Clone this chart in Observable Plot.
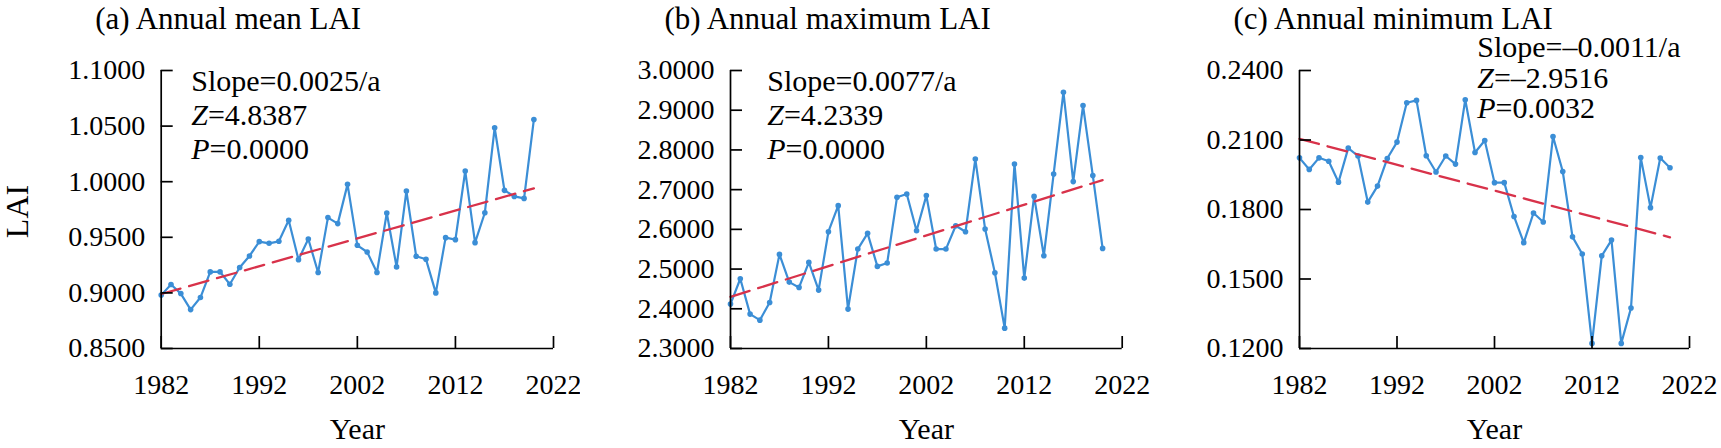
<!DOCTYPE html>
<html>
<head>
<meta charset="utf-8">
<script src="https://cdn.jsdelivr.net/npm/d3@7"></script>
<script src="https://cdn.jsdelivr.net/npm/@observablehq/plot@0.6"></script>
<style>
  body { margin: 0; background: #fff; }
  #wrap { position: relative; width: 1721px; height: 448px; overflow: hidden; background: #fff;
          font-family: "Liberation Serif", "DejaVu Serif", serif; }
  .panel { position: absolute; top: 0; }
  .panel svg, .panel svg text, .panel svg tspan { font-family: "Liberation Serif", "DejaVu Serif", serif !important; }
</style>
</head>
<body>
<div id="wrap"></div>
<script>
const years = [1982,1983,1984,1985,1986,1987,1988,1989,1990,1991,
  1992,1993,1994,1995,1996,1997,1998,1999,2000,2001,
  2002,2003,2004,2005,2006,2007,2008,2009,2010,2011,
  2012,2013,2014,2015,2016,2017,2018,2019,2020];

const meanLAI = [0.8980,0.9075,0.8994,0.8850,0.8958,0.9189,0.9189,0.9078,0.9228,0.9332,
  0.9461,0.9446,0.9464,0.9653,0.9299,0.9485,0.9183,0.9677,0.9623,0.9976,
  0.9428,0.9368,0.9183,0.9719,0.9234,0.9916,0.9329,0.9302,0.9000,0.9497,
  0.9479,1.0096,0.9452,0.9721,1.0485,0.9922,0.9868,0.9850,1.0560];

const maxLAI = [2.4118,2.4756,2.3866,2.3714,2.4160,2.5370,2.4672,2.4538,2.5168,2.4471,
  2.5941,2.6597,2.3992,2.5504,2.5899,2.5067,2.5151,2.6807,2.6891,2.5966,
  2.6850,2.5504,2.5504,2.6090,2.5940,2.7770,2.6010,2.4908,2.3513,2.7647,
  2.4773,2.6830,2.5336,2.7395,2.9454,2.7202,2.9118,2.7353,2.5520];

const minLAI = [0.2023,0.1973,0.2023,0.2008,0.1918,0.2065,0.2031,0.1832,0.1901,0.2020,
  0.2091,0.2261,0.2271,0.2032,0.1962,0.2031,0.1996,0.2274,0.2046,0.2098,
  0.1916,0.1916,0.1770,0.1657,0.1785,0.1746,0.2115,0.1964,0.1682,0.1608,
  0.1222,0.1600,0.1668,0.1222,0.1375,0.2024,0.1808,0.2022,0.1980];

// Sen's slope trend lines, read at their two ends
const trendYears = [1982, 2020];
const trendMean = [0.8990, 0.9940];
const trendMax = [2.4300, 2.7240];
const trendMin = [0.2105, 0.1680];

const xTicks = [1982, 1992, 2002, 2012, 2022];
const yTicksMean = [0.85, 0.90, 0.95, 1.00, 1.05, 1.10];
const yTicksMax = [2.3, 2.4, 2.5, 2.6, 2.7, 2.8, 2.9, 3.0];
const yTicksMin = [0.12, 0.15, 0.18, 0.21, 0.24];

const titles = ["(a) Annual mean LAI", "(b) Annual maximum LAI", "(c) Annual minimum LAI"];
const notesMean = ["Slope=0.0025/a", "Z=4.8387", "P=0.0000"];
const notesMax = ["Slope=0.0077/a", "Z=4.2339", "P=0.0000"];
const notesMin = ["Slope=\u20130.0011/a", "Z=\u20132.9516", "P=0.0032"];
const yLabel = "LAI";
const xLabel = "Year";

const BLUE = "#3b8ed6";
const RED = "#d8324a";
const FONT = "Liberation Serif, DejaVu Serif, serif";

function panel(cfg) {
  const H = 448, mT = 70, mB = 100;
  const plotW = cfg.width - cfg.marginLeft - cfg.marginRight;
  const plotH = H - mT - mB;
  const data = years.map((year, i) => ({year, v: cfg.values[i]}));
  const trend = trendYears.map((year, i) => ({year, v: cfg.trend[i]}));
  const marks = [
    Plot.line(data, {x: "year", y: "v", stroke: BLUE, strokeWidth: 2.2}),
    Plot.dot(data, {x: "year", y: "v", r: 2.8, fill: BLUE, stroke: "none"}),
    Plot.line(trend, {x: "year", y: "v", stroke: RED, strokeWidth: 2.3, strokeDasharray: "20,9"}),
    Plot.ruleX([xTicks[0]], {stroke: "black", strokeWidth: 1.7}),
    Plot.ruleY([cfg.yTicks[0]], {stroke: "black", strokeWidth: 1.7}),
    Plot.ruleY(cfg.yTicks, {stroke: "black", strokeWidth: 1.7, insetRight: plotW - 12}),
    Plot.ruleX(xTicks, {stroke: "black", strokeWidth: 1.7, insetTop: plotH - 12}),
    Plot.axisY({ticks: cfg.yTicks, tickSize: 0, tickPadding: 16, tickFormat: d3.format(".4f"), label: null, fontSize: 28}),
    Plot.axisX({ticks: xTicks, tickSize: 0, tickPadding: 26, tickFormat: d3.format("d"), label: null, fontSize: 28}),
    Plot.text([cfg.title], {text: d => d, frameAnchor: "top-left", dx: -66, dy: 28 - mT,
      textAnchor: "start", lineAnchor: "bottom", fontSize: 31, fill: "black"}),
    Plot.text([xLabel], {text: d => d, frameAnchor: "bottom", dy: 90,
      textAnchor: "middle", lineAnchor: "bottom", fontSize: 30, fill: "black"})
  ];
  cfg.notes.forEach((n, i) => {
    marks.push(Plot.text([n], {text: d => d, frameAnchor: "top-left", dx: cfg.notesDx, dy: cfg.notesBase[i] - mT,
      textAnchor: "start", lineAnchor: "bottom", fontSize: 30, fill: "black"}));
  });
  if (cfg.ylabel) {
    marks.push(Plot.text([cfg.ylabel], {text: d => d, frameAnchor: "left", dx: 17 - cfg.marginLeft, dy: 2,
      rotate: -90, textAnchor: "middle", lineAnchor: "middle", fontSize: 32, fill: "black"}));
  }
  const svg = Plot.plot({
    width: cfg.width, height: H,
    marginLeft: cfg.marginLeft, marginRight: cfg.marginRight, marginTop: mT, marginBottom: mB,
    x: {domain: [xTicks[0], xTicks[xTicks.length - 1]], label: null},
    y: {domain: [cfg.yTicks[0], cfg.yTicks[cfg.yTicks.length - 1]], label: null},
    style: {fontSize: "28px", color: "black", background: "white", overflow: "visible"},
    marks
  });
  svg.setAttribute("font-family", FONT);
  svg.style.fontFamily = FONT;
  d3.select(svg).selectAll("g").attr("font-family", FONT);
  // italic Z and P
  d3.select(svg).selectAll("text").each(function () {
    const t = this.textContent;
    const m = /^([ZP])(=.*)$/.exec(t);
    if (m && this.childElementCount === 0) {
      this.textContent = "";
      const s = d3.select(this);
      s.append("tspan").attr("font-style", "italic").text(m[1]);
      s.append("tspan").text(m[2]);
    }
  });
  const div = document.createElement("div");
  div.className = "panel";
  div.style.left = cfg.left + "px";
  div.appendChild(svg);
  document.getElementById("wrap").appendChild(div);
}

panel({left: 0, width: 580, marginLeft: 160.7, marginRight: 27, values: meanLAI, trend: trendMean,
  yTicks: yTicksMean, title: titles[0], notes: notesMean, notesDx: 30, notesBase: [90, 124, 158], ylabel: yLabel});
panel({left: 580, width: 570, marginLeft: 150, marginRight: 28.3, values: maxLAI, trend: trendMax,
  yTicks: yTicksMax, title: titles[1], notes: notesMax, notesDx: 36.7, notesBase: [90, 124, 158]});
panel({left: 1150, width: 571, marginLeft: 149, marginRight: 32, values: minLAI, trend: trendMin,
  yTicks: yTicksMin, title: titles[2], notes: notesMin, notesDx: 177.7, notesBase: [56, 87, 117]});
</script>
</body>
</html>
